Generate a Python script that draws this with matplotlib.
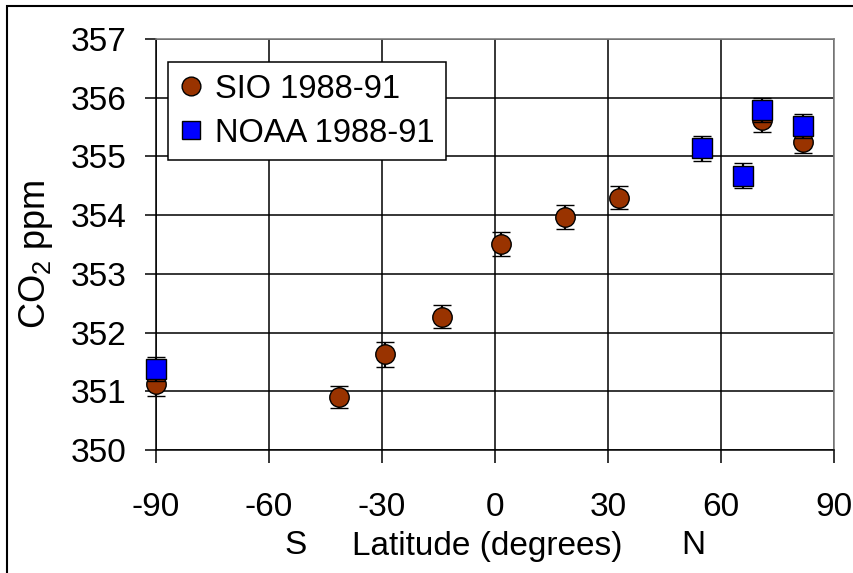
import numpy as np
import matplotlib
matplotlib.use("Agg")
import matplotlib.pyplot as plt
from matplotlib.lines import Line2D
from matplotlib.patches import Rectangle

plt.rcParams['font.family'] = ['Liberation Sans', 'DejaVu Sans']
plt.rcParams['mathtext.fontset'] = 'custom'
plt.rcParams['mathtext.rm'] = 'Liberation Sans'
plt.rcParams['axes.unicode_minus'] = False

# SIO flask stations, 1988-91 means
sio_lat = [-90, -41.3, -29.1, -14.2, 1.6, 18.6, 32.9, 71.0, 81.9]
sio_co2 = [351.13, 350.90, 351.63, 352.27, 353.51, 353.97, 354.30, 355.62, 355.25]
sio_err = [0.21, 0.19, 0.21, 0.2, 0.2, 0.2, 0.19, 0.2, 0.2]

# NOAA stations, 1988-91 means
noaa_lat = [-90, 54.9, 65.9, 71.0, 81.9]
noaa_co2 = [351.38, 355.14, 354.67, 355.79, 355.52]
noaa_err = [0.2, 0.21, 0.21, 0.2, 0.2]

xticks = [-90, -60, -30, 0, 30, 60, 90]
yticks = [350, 351, 352, 353, 354, 355, 356, 357]

W, H = 854, 573
fig = plt.figure(figsize=(W / 100, H / 100), dpi=100)
ax = fig.add_axes([156 / W, 1 - 450 / H, 678 / W, 411 / H])

brown = '#993300'
blue = '#0000ff'

ax.errorbar(sio_lat, sio_co2, yerr=sio_err, fmt='o', ms=14, mfc=brown, mec='black',
            mew=1, ecolor='black', elinewidth=1.6, capsize=6.2, capthick=2.4,
            clip_on=False, zorder=3)
ax.errorbar(noaa_lat, noaa_co2, yerr=noaa_err, fmt='s', ms=13.8, mfc=blue, mec='black',
            mew=1, ecolor='black', elinewidth=1.6, capsize=6.2, capthick=2.4,
            clip_on=False, zorder=4)

ax.set_xlim(-90, 90)
ax.set_ylim(350, 357)
ax.set_xticks(xticks)
ax.set_yticks(yticks)
ax.grid(True, color='black', lw=1.1)
ax.set_axisbelow(True)

for s in ['top', 'right']:
    ax.spines[s].set_color('#808080')
    ax.spines[s].set_linewidth(1.2)
for s in ['left', 'bottom']:
    ax.spines[s].set_color('black')
    ax.spines[s].set_linewidth(1.1)

ax.tick_params(axis='y', direction='out', length=8, width=1.1, pad=13, labelsize=24)
ax.tick_params(axis='x', direction='out', length=9.5, width=1.1, pad=21, labelsize=24)

handles = [
    Line2D([], [], ls='none', marker='o', ms=13.5, mfc=brown, mec='black', mew=1),
    Line2D([], [], ls='none', marker='s', ms=13.5, mfc=blue, mec='black', mew=1),
]
leg = ax.legend(handles, ['SIO 1988-91', 'NOAA 1988-91'], loc='upper left',
                bbox_to_anchor=(0.0177, 0.943), borderaxespad=0, fontsize=23.5,
                frameon=True, fancybox=False, edgecolor='black', framealpha=1,
                handlelength=0.7, handletextpad=0.4, borderpad=0.35, labelspacing=0.4)
leg.get_frame().set_linewidth(1.1)
leg.set_zorder(5)

fig.text(36 / W, 1 - 254 / H, r'CO$_\mathregular{2}$ ppm', rotation=90,
         ha='center', va='center', fontsize=26)
fig.text(296 / W, 1 - 546 / H, 'S', ha='center', va='center', fontsize=24)
fig.text(487 / W, 1 - 546 / H, 'Latitude (degrees)', ha='center', va='center', fontsize=24)
fig.text(693 / W, 1 - 546 / H, 'N', ha='center', va='center', fontsize=24)

# outer frame of the chart
fig.patches.append(Rectangle((7 / W, -0.1), 1.2, 1 - 6 / H + 0.1, transform=fig.transFigure,
                             fill=False, ec='black', lw=1.5))

fig.savefig('out.png', dpi=100)
